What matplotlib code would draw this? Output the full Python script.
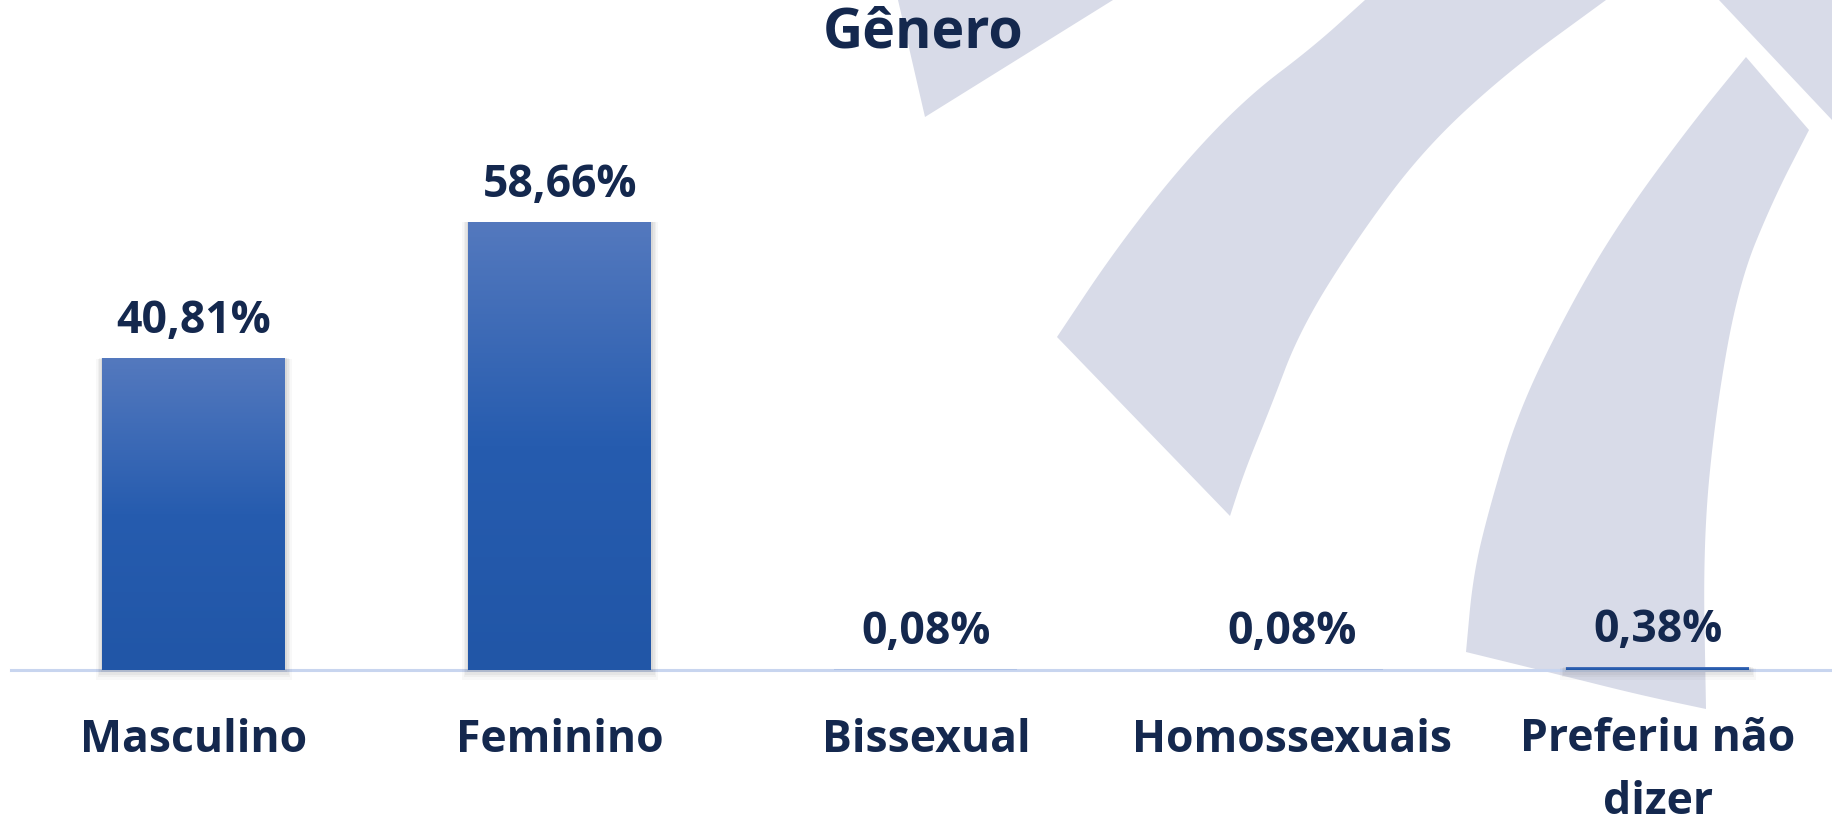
import matplotlib.pyplot as plt
import numpy as np
from matplotlib.patches import Polygon, Rectangle

# data
categories = ['Masculino', 'Feminino', 'Bissexual', 'Homossexuais', 'Preferiu não\ndizer']
shares = [40.81, 58.66, 0.08, 0.08, 0.38]
title = 'Gênero'

navy = '#14284e'
font = 'Open Sans'
W, H = 1832, 818

# watermark shapes (figure pixels, y from top), each as a list of edges
wm_color = '#d8dbe8'
watermark = [
    [[(898, 0), (925, 117)], [(925, 117), (1113, 0)], [(1113, 0), (898, 0)]],
    [[(1057, 337), (1113, 253), (1180, 167), (1247, 97), (1313, 47), (1365, 0)],
     [(1365, 0), (1606, 0)],
     [(1606, 0), (1506, 73), (1423, 150), (1356, 240), (1300, 330), (1270, 409),
      (1245, 470), (1230, 516)],
     [(1230, 516), (1057, 337)]],
    [[(1746, 57), (1809, 130)],
     [(1809, 130), (1773, 200), (1739, 283), (1716, 409), (1703, 542), (1706, 709)],
     [(1706, 709), (1640, 695), (1560, 675), (1466, 652)],
     [(1466, 652), (1473, 576), (1489, 509), (1519, 409), (1573, 300), (1623, 217),
      (1689, 127), (1746, 57)]],
    [[(1719, 0), (1832, 0)], [(1832, 0), (1832, 120)], [(1832, 120), (1719, 0)]],
]


def smooth(edge, n=4):
    pts = np.array(edge, dtype=float)
    for _ in range(n):
        if len(pts) < 3:
            break
        q = 0.75 * pts[:-1] + 0.25 * pts[1:]
        r = 0.25 * pts[:-1] + 0.75 * pts[1:]
        mid = np.empty((2 * len(q), 2))
        mid[0::2] = q
        mid[1::2] = r
        pts = np.vstack([pts[:1], mid, pts[-1:]])
    return pts


fig = plt.figure(figsize=(W / 100, H / 100), dpi=100)
bg = fig.add_axes([0, 0, 1, 1], zorder=0)
bg.set_xlim(0, W)
bg.set_ylim(H, 0)
bg.axis('off')
for edges in watermark:
    pts = np.vstack([smooth(e) for e in edges])
    bg.add_patch(Polygon(pts, closed=True, fc=wm_color, ec='none'))

base_px = 670      # baseline y (px from top)
top_px = 60
ax = fig.add_axes([11 / W, (H - base_px) / H, (W - 11) / W, (base_px - top_px) / H], zorder=1)
ax.patch.set_alpha(0)
for s in ax.spines.values():
    s.set_visible(False)
ax.set_xticks([])
ax.set_yticks([])

x = np.arange(len(categories))
xmax = -0.5 + (W - 11) / 366
ymax = (base_px - top_px) / 7.645
px_x = 1 / 366
px_y = 1 / 7.645

ax.axhline(0, color='#c8d5ef', lw=2.2, zorder=1, clip_on=False)

bars = ax.bar(x, shares, width=0.5, color='none', zorder=3)

top_c = np.array([84, 121, 190]) / 255
mid_c = np.array([38, 92, 175]) / 255
bot_c = np.array([33, 86, 167]) / 255
t = np.linspace(0, 1, 256)[:, None]
grad = np.where(t < 0.5, top_c + (mid_c - top_c) * (t / 0.5), mid_c + (bot_c - mid_c) * ((t - 0.5) / 0.5))
grad = grad[:, None, :]

for b in bars:
    x0, w, h = b.get_x(), b.get_width(), b.get_height()
    hpx = h / px_y
    if hpx < 1.5:
        # hairline bars: barely visible in the original
        b.set_facecolor((*np.array([68, 114, 196]) / 255, min(1.0, hpx ** 2 / 2)))
        if hpx > 1:
            ax.add_patch(Rectangle((x0, -2 * px_y), w, 2 * px_y, fc='#888888', ec='none',
                                   alpha=0.25, zorder=2, clip_on=False))
        continue
    # soft shadow
    for k, a in zip([8, 6, 4, 2], [0.04, 0.05, 0.06, 0.08]):
        ax.add_patch(Rectangle((x0 - k * px_x * 0.8, -k * px_y * 1.2), w + 1.6 * k * px_x, h + k * px_y * 1.1,
                               fc='#555555', ec='none', alpha=a, zorder=2, clip_on=False))
    im = ax.imshow(grad, extent=[x0, x0 + w, 0, h], aspect='auto', origin='upper', zorder=3)
    im.set_clip_path(b)

ax.set_xlim(-0.5, xmax)
ax.set_ylim(0, ymax)

for i, v in enumerate(shares):
    ax.annotate(f'{v:.2f}'.replace('.', ',') + '%', (i, v), xytext=(0, 18), textcoords='offset points',
                ha='center', va='baseline', fontsize=32, fontweight='bold', color=navy, family=font,
                zorder=5)

tr = ax.get_xaxis_transform()
for i, c in enumerate(categories):
    n = c.count('\n')
    y = (base_px - (752 + 62 * n)) / (base_px - top_px)
    ax.text(i, y, c, transform=tr, ha='center', va='baseline', fontsize=32, fontweight='bold',
            color=navy, family=font, linespacing=1.54, clip_on=False)

fig.text(923 / W, 1 - 48 / H, title, ha='center', va='baseline', fontsize=40, fontweight='bold',
         color=navy, family=font)

fig.savefig('out.png', dpi=100, facecolor='white')
